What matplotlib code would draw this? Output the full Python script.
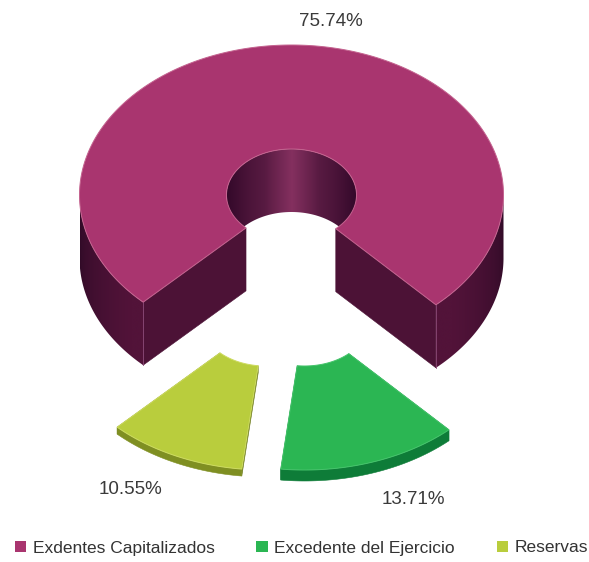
import numpy as np
import matplotlib
matplotlib.use("Agg")
import matplotlib.pyplot as plt
from matplotlib.colors import to_rgb
from matplotlib.patches import Patch, Polygon

plt.rcParams['font.family'] = ['Liberation Sans', 'DejaVu Sans']

# Data
categories = ["Exdentes Capitalizados", "Excedente del Ejercicio", "Reservas"]
shares = [75.74, 13.71, 10.55]
share_labels = ["75.74%", "13.71%", "10.55%"]

# Style
top_colors = ["#a9356f", "#2bb653", "#b9cd3d"]
wall_colors = ["#521339", "#0e7c38", "#7f8f22"]
cut_colors = ["#4c1236", "#0e7c38", "#6f7d1c"]
hole_dark, hole_light = "#34092a", "#84305f"
edge_colors = ["#c4638f", "#45c46b", "#cddb60"]
depths = [63, 11, 7]
offsets = [(0, 0), (13, 125), (-26, 125)]
label_pos = [(331, 21), (413, 500), (130, 490)]
CX, CY, RX, RY, IRX, IRY = 291.5, 195, 212, 150, 65, 46
START = -44.4

fig = plt.figure(figsize=(5.89, 5.62), dpi=100, facecolor="white")
ax = fig.add_axes([0, 0, 1, 1])


def pts(theta, rx, ry, off, dz=0):
    return (CX + off[0] + rx * np.sin(np.radians(theta)),
            CY + off[1] + ry * np.cos(np.radians(theta)) + dz)


def mix(a, b, t):
    a, b = np.array(to_rgb(a)), np.array(to_rgb(b))
    return a[None, :] + (b - a)[None, :] * np.asarray(t)[:, None]


def band(theta, rx, ry, off, d):
    """Closed outline of a vertical wall under an elliptical arc."""
    xa, ya = pts(theta, rx, ry, off)
    return np.r_[xa, xa[::-1]], np.r_[ya, ya[::-1] + d]


def gradient_wall(x, y, shade, z):
    xs = np.linspace(x.min(), x.max(), 300)
    rgb = shade(xs)
    im = ax.imshow(rgb[None, :, :], extent=(x.min(), x.max(), y.max(), y.min()),
                   aspect="auto", zorder=z, interpolation="bilinear")
    im.set_clip_path(Polygon(np.c_[x, y], closed=True, transform=ax.transData))


def hole_shade(xs):
    u = np.abs(xs - CX) / IRX
    v = np.interp(u, [0, 0.12, 0.3, 0.42, 0.65, 1], [1, 0.85, 0.62, 0.45, 0.3, 0])
    return mix(hole_dark, hole_light, v)


def outer_shade(xs):
    c = np.sqrt(np.clip(1 - ((xs - CX) / RX) ** 2, 0, 1))
    return mix("#2e0a26", wall_colors[0], np.clip(c / 0.65, 0, 1))


angle = START
spans = []
for s in shares:
    spans.append((angle, angle - s * 3.6))
    angle -= s * 3.6

for i, (a0, a1) in enumerate(spans):
    off, d = offsets[i], depths[i]
    th = np.linspace(a0, a1, int(abs(a1 - a0) * 2) + 2)

    # Wall of the central hole, seen at the back
    if i == 0:
        x, y = band(np.linspace(-270, -90, 181), IRX, IRY, off, d)
        gradient_wall(x, y, hole_shade, 1)

    # Radial cut walls
    for t in (a0, a1):
        xi, yi = pts(t, IRX, IRY, off)
        xo, yo = pts(t, RX, RY, off)
        ax.fill([xi, xo, xo, xi], [yi, yo, yo + d, yi + d], facecolor=cut_colors[i],
                edgecolor=cut_colors[i], linewidth=0.4, zorder=2 + i * 3)

    # Outer wall: only the part facing the viewer
    if i == 0:
        gradient_wall(*band(np.linspace(-90, a0, 120), RX, RY, off, d), outer_shade, 3)
        gradient_wall(*band(np.linspace(a1, -270, 120), RX, RY, off, d), outer_shade, 3)
    else:
        x, y = band(th, RX, RY, off, d)
        ax.fill(x, y, facecolor=wall_colors[i], edgecolor=wall_colors[i],
                linewidth=0.4, zorder=3 + i * 3)

    # Top face
    xo, yo = pts(th, RX, RY, off)
    xi, yi = pts(th[::-1], IRX, IRY, off)
    ax.fill(np.r_[xo, xi], np.r_[yo, yi], facecolor=top_colors[i],
            edgecolor=edge_colors[i], linewidth=0.7, zorder=4 + i * 3)

    # Corner highlight on the main block
    if i == 0:
        for t in (a0, a1):
            xc, yc = pts(t, RX, RY, off)
            ax.plot([xc, xc], [yc, yc + d], color="#8c4a78", lw=0.6, zorder=3.5)

    ax.text(*label_pos[i], share_labels[i], ha="center", va="center",
            fontsize=13.5, color="#3a3a3a", zorder=20)

ax.set_xlim(0, 589)
ax.set_ylim(562, 0)
ax.axis("off")

handles = [Patch(facecolor=c, edgecolor="none") for c in top_colors]
leg = ax.legend(handles, categories, loc="center left", bbox_to_anchor=(15 / 589, 1 - 548 / 562),
                ncol=3, frameon=False, fontsize=12.5, labelcolor="#333333",
                handlelength=0.65, handleheight=0.65, handletextpad=0.36,
                columnspacing=2.42, borderpad=0, borderaxespad=0)

fig.savefig("out.png", dpi=100, facecolor="white")
